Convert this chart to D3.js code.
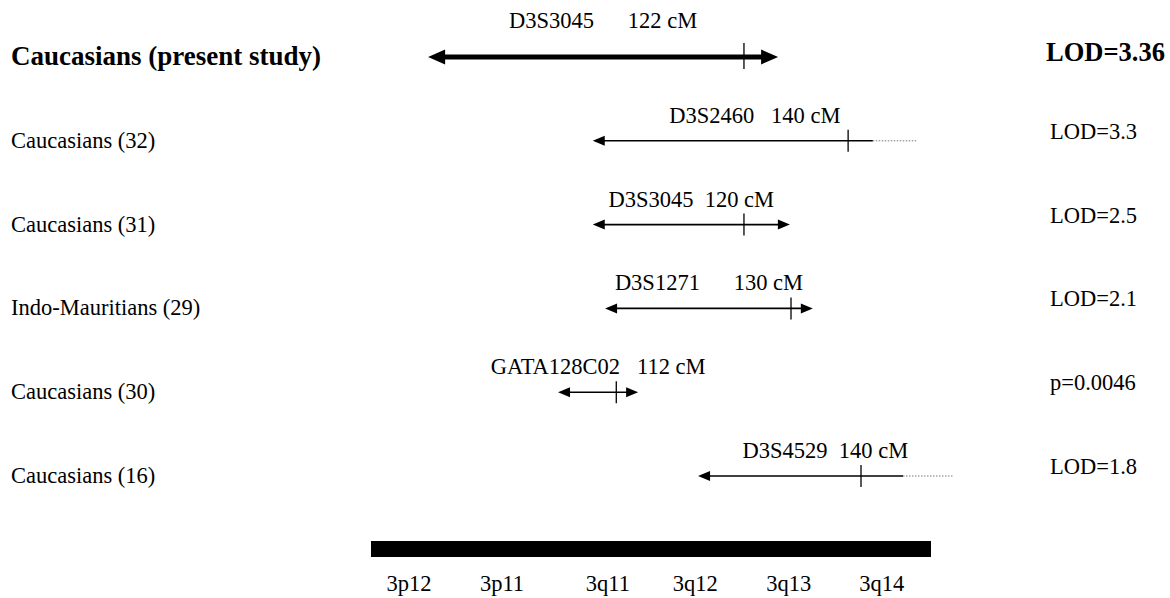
<!DOCTYPE html>
<html>
<head>
<meta charset="utf-8">
<script src="https://d3js.org/d3.v7.min.js"></script>
<style>
  body { margin: 0; background: #fff; }
  text { font-family: "Liberation Serif", "Times New Roman", serif; fill: #000; white-space: pre; }
</style>
</head>
<body>
<div id="chart"></div>
<script>
// one entry per study, top to bottom
var studies   = ["Caucasians (present study)", "Caucasians (32)", "Caucasians (31)",
                 "Indo-Mauritians (29)", "Caucasians (30)", "Caucasians (16)"];
var markers   = ["D3S3045      122 cM", "D3S2460   140 cM", "D3S3045  120 cM",
                 "D3S1271      130 cM", "GATA128C02   112 cM", "D3S4529  140 cM"];
var stats     = ["LOD=3.36", "LOD=3.3", "LOD=2.5", "LOD=2.1", "p=0.0046", "LOD=1.8"];
// interval along the schematic chromosome (0 = left end of bar, 100 = right end)
var regionFrom = [10.2, 39.6, 39.6, 41.8, 33.4, 58.4];
var regionTo   = [72.7, 89.6, 74.8, 78.9, 47.7, 95.0];
var dottedTo   = [null, 97.5, null, null, null, 103.9];
var markerAt   = [66.6, 85.2, 66.6, 75.0, 43.8, 87.5];
var openRight  = [true, false, true, true, true, false];

// cytogenetic bands under the bar
var bands    = ["3p12", "3p11", "3q11", "3q12", "3q13", "3q14"];
var bandAt   = [6.8, 23.4, 42.3, 57.9, 74.6, 91.2];

var width = 1170, height = 598;

var x = d3.scaleLinear().domain([0, 100]).range([371, 931]);
var y = d3.scalePoint().domain(d3.range(studies.length)).range([57, 476]);

var svg = d3.select("#chart").append("svg")
    .attr("width", width)
    .attr("height", height);

var rows = studies.map(function(s, i) {
  return {
    i: i, name: s, marker: markers[i], stat: stats[i],
    from: regionFrom[i], to: regionTo[i], dotted: dottedTo[i],
    at: markerAt[i], right: openRight[i], main: i === 0
  };
});

var row = svg.selectAll(".row")
    .data(rows)
  .enter().append("g")
    .attr("class", "row")
    .attr("transform", function(d) { return "translate(0," + y(d.i) + ")"; });

// study names
row.append("text")
    .attr("x", 11)
    .attr("y", function(d) { return d.main ? 8 : 7; })
    .style("font-size", function(d) { return d.main ? "27px" : "22.5px"; })
    .style("font-weight", function(d) { return d.main ? "bold" : "normal"; })
    .text(function(d) { return d.name; });

// LOD / p values
row.append("text")
    .attr("x", function(d) { return d.main ? 1046 : 1050; })
    .attr("y", function(d) { return d.main ? 4 : -2; })
    .style("font-size", function(d) { return d.main ? "26.5px" : "22.5px"; })
    .style("font-weight", function(d) { return d.main ? "bold" : "normal"; })
    .text(function(d) { return d.stat; });

// dotted continuation
row.filter(function(d) { return d.dotted != null; }).append("line")
    .attr("x1", function(d) { return x(d.to); })
    .attr("x2", function(d) { return x(d.dotted); })
    .attr("stroke", "#777")
    .attr("stroke-width", 1)
    .attr("stroke-dasharray", "1.5,1.5");

// shaft, leaving room for the heads
function head(d) { return d.main ? 17 : 12; }
row.append("line")
    .attr("x1", function(d) { return x(d.from) + head(d) - 1; })
    .attr("x2", function(d) { return d.right ? x(d.to) - head(d) + 1 : x(d.to); })
    .attr("stroke", "#000")
    .attr("stroke-width", function(d) { return d.main ? 5 : 1.6; });

// arrow heads
row.each(function(d) {
  var g = d3.select(this), h = head(d), w = d.main ? 7.5 : 5;
  var p = d3.path(), a = x(d.from);
  p.moveTo(a, 0); p.lineTo(a + h, -w); p.lineTo(a + h, w); p.closePath();
  if (d.right) {
    var b = x(d.to);
    p.moveTo(b, 0); p.lineTo(b - h, -w); p.lineTo(b - h, w); p.closePath();
  }
  g.append("path").attr("d", p.toString()).attr("fill", "#000");
});

// marker position tick
row.append("line")
    .attr("x1", function(d) { return x(d.at); })
    .attr("x2", function(d) { return x(d.at); })
    .attr("y1", function(d) { return d.main ? -14 : -11; })
    .attr("y2", function(d) { return d.main ? 12 : 11; })
    .attr("stroke", "#000")
    .attr("stroke-width", 1.3);

// marker name and position above the interval
row.append("text")
    .attr("x", function(d) { return (x(d.from) + x(d.dotted != null ? d.dotted : d.to)) / 2; })
    .attr("y", function(d) { return d.main ? -29 : -18; })
    .attr("text-anchor", "middle")
    .style("font-size", "22.5px")
    .text(function(d) { return d.marker; });

// chromosome bar
svg.append("rect")
    .attr("x", x(0))
    .attr("y", 541)
    .attr("width", x(100) - x(0))
    .attr("height", 16)
    .attr("fill", "#000");

svg.selectAll(".band")
    .data(bands)
  .enter().append("text")
    .attr("class", "band")
    .attr("x", function(d, i) { return x(bandAt[i]); })
    .attr("y", 591)
    .attr("text-anchor", "middle")
    .style("font-size", "22.5px")
    .text(function(d) { return d; });
</script>
</body>
</html>
